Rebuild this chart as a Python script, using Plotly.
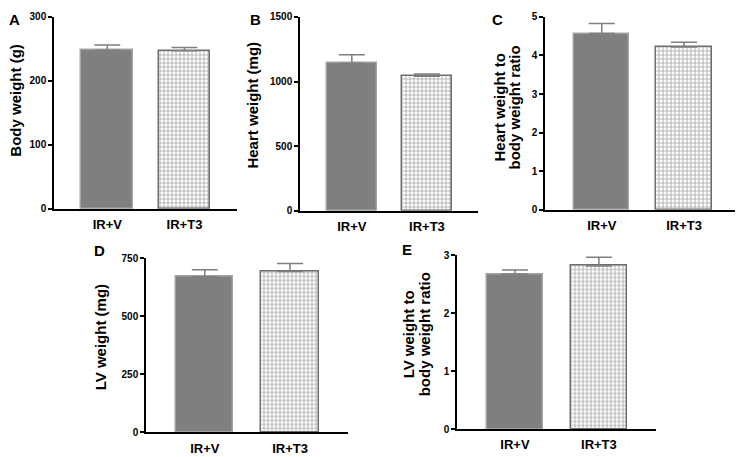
"""Five-panel bar chart: body/heart/LV weights for IR+V vs IR+T3."""

import plotly.graph_objects as go

W, H = 743, 457
# the page puts the figure 8 px in from the top-left corner
OFFSET = 8

groups = ["IR+V", "IR+T3"]

body_weight = [248, 247]
body_weight_err = [8, 5]

heart_weight = [1141, 1041]
heart_weight_err = [67, 18]

heart_ratio = [4.57, 4.22]
heart_ratio_err = [0.26, 0.12]

lv_weight = [671, 694]
lv_weight_err = [30, 34]

lv_ratio = [2.68, 2.82]
lv_ratio_err = [0.07, 0.15]

# panel: (letter, values, errors, y max, y ticks, x px span, y px span (top, bottom))
PANELS = [
    ("A", body_weight, body_weight_err, 300, [0, 100, 200, 300], (54, 237), (9, 208)),
    ("B", heart_weight, heart_weight_err, 1500, [0, 500, 1000, 1500], (300, 478), (9.3, 210)),
    ("C", heart_ratio, heart_ratio_err, 5, [0, 1, 2, 3, 4, 5], (545, 740), (10.7, 209)),
    ("D", lv_weight, lv_weight_err, 750, [0, 250, 500, 750], (146, 348), (259, 437.7)),
    ("E", lv_ratio, lv_ratio_err, 3, [0, 1, 2, 3], (457, 656), (256, 434.3)),
]

# (text lines, x px per line, y px centre)
Y_TITLES = [
    (["Body weight (g)"], [16], 97),
    (["Heart weight (mg)"], [253], 101),
    (["Heart weight to", "body weight ratio"], [499, 514], 104),
    (["LV weight (mg)"], [100], 340),
    (["LV weight to", "body weight ratio"], [408, 424], 337),
]

LETTER_POS = [(14, 14), (255, 14), (498, 14), (99, 251), (407, 250)]

FONT = "Arial"


def px_x(v):
    return (v - OFFSET) / W


def px_y(v, low=0):
    return 1 - max(v - OFFSET, low) / H


fig = go.Figure()

for i, (letter, vals, errs, ymax, yticks, xspan, yspan) in enumerate(PANELS, start=1):
    xa = "x" if i == 1 else f"x{i}"
    ya = "y" if i == 1 else f"y{i}"
    fig.add_trace(
        go.Bar(
            x=[0, 1],
            y=vals,
            width=0.67,
            xaxis=xa,
            yaxis=ya,
            marker=dict(
                color=["#7f7f7f", "white"],
                line=dict(color=["#a3a3a3", "#6e6e6e"], width=1.5),
                pattern=dict(
                    shape=["", "+"],
                    size=4,
                    solidity=0.35,
                    fgcolor="#777777",
                    bgcolor="white",
                ),
            ),
            error_y=dict(
                type="data",
                symmetric=False,
                array=errs,
                arrayminus=[0, 0],
                color="#7f7f7f",
                thickness=1.5,
                width=13,
            ),
            showlegend=False,
        )
    )
    key = "" if i == 1 else str(i)
    fig.update_layout(
        {
            f"xaxis{key}": dict(
                domain=[px_x(xspan[0]), px_x(xspan[1])],
                range=[-0.69, 1.68],
                tickvals=[0, 1],
                ticktext=groups,
                ticks="outside",
                ticklen=3,
                tickcolor="rgba(0,0,0,0)",
                showline=True,
                linecolor="black",
                linewidth=1.5,
                showgrid=False,
                zeroline=False,
                anchor=ya,
                tickfont=dict(family=FONT, size=13, color="black", weight="bold"),
            ),
            f"yaxis{key}": dict(
                domain=[px_y(yspan[1]), px_y(yspan[0], low=3)],
                range=[0, ymax],
                tickvals=yticks,
                ticks="outside",
                ticklen=4,
                tickwidth=1.5,
                tickcolor="black",
                showline=True,
                linecolor="black",
                linewidth=1.5,
                showgrid=False,
                zeroline=False,
                anchor=xa,
                tickfont=dict(family=FONT, size=10, color="black", weight="bold"),
            ),
        }
    )

annotations = []
for lines, xs, yc in Y_TITLES:
    for text, xp in zip(lines, xs):
        annotations.append(
            dict(
                text=text,
                x=px_x(xp),
                y=px_y(yc),
                xref="paper",
                yref="paper",
                xanchor="center",
                yanchor="middle",
                textangle=-90,
                showarrow=False,
                font=dict(family=FONT, size=15, color="black", weight="bold"),
            )
        )

for letter, (px, py) in zip([p[0] for p in PANELS], LETTER_POS):
    annotations.append(
        dict(
            text=letter,
            x=px_x(px),
            y=px_y(py),
            xref="paper",
            yref="paper",
            xanchor="center",
            yanchor="middle",
            showarrow=False,
            font=dict(family=FONT, size=15, color="black", weight="bold"),
        )
    )

fig.update_layout(
    width=W,
    height=H,
    margin=dict(l=0, r=0, t=0, b=0),
    paper_bgcolor="white",
    plot_bgcolor="white",
    bargap=0,
    annotations=annotations,
)

fig.write_html("out.html")
